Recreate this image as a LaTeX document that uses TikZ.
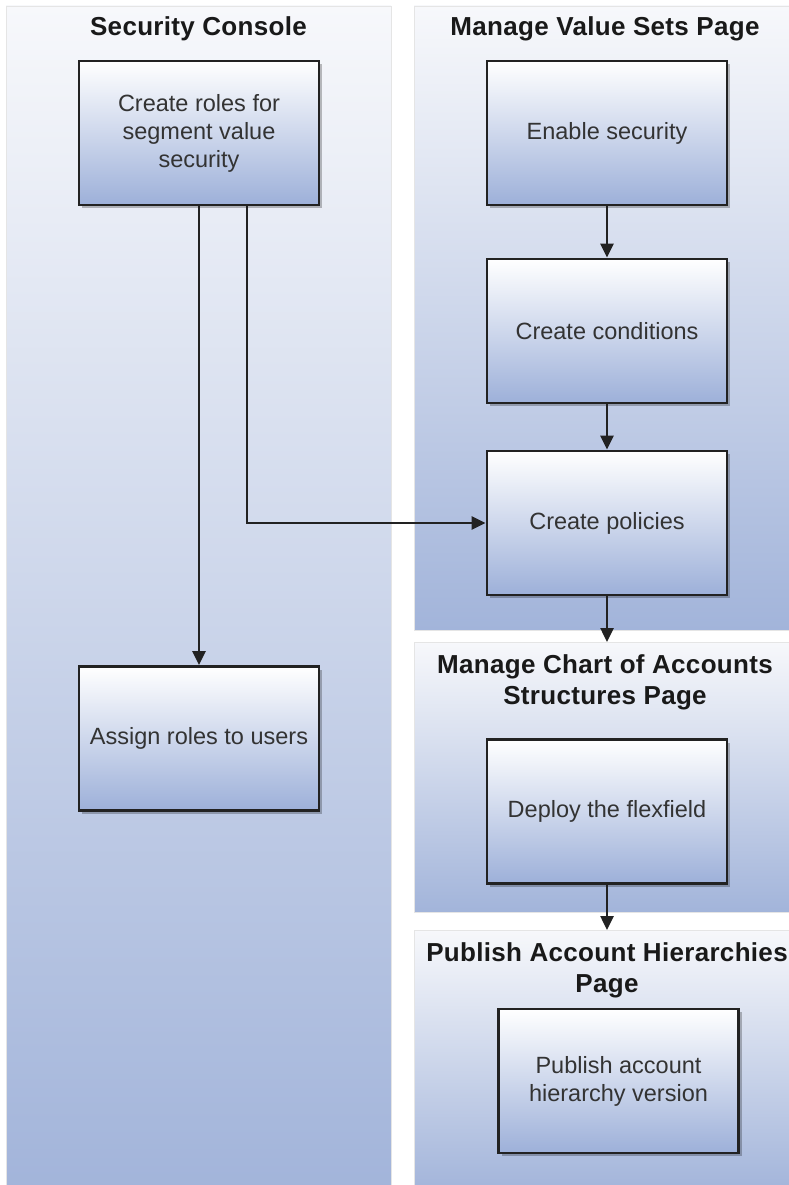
\documentclass[tikz,border=0pt]{standalone}
\usepackage{fontspec}
\setmainfont{Liberation Sans}
\newfontfamily\titlefont[LetterSpace=1.2]{Liberation Sans}
\usetikzlibrary{arrows.meta,shadows}
\definecolor{lanetop}{HTML}{F7F8FB}
\definecolor{lanebot}{HTML}{A2B4DA}
\definecolor{boxbot}{HTML}{9DB0D9}
\definecolor{boxline}{HTML}{222222}
\definecolor{textgray}{HTML}{333333}
\begin{document}
\begin{tikzpicture}[x=1pt,y=-1pt,
  lane/.style={draw=black!10, line width=0.8pt, top color=lanetop, bottom color=lanebot},
  stepbox/.style={draw=boxline, line width=2.8pt, top color=white, bottom color=boxbot,
    minimum width=240pt, minimum height=144pt, align=center, text=textgray,
    font=\fontsize{23.5}{28}\selectfont,
    drop shadow={shadow xshift=3pt, shadow yshift=-3pt, fill=black, opacity=0.25}},
  title/.style={font=\titlefont\bfseries\fontsize{26}{31}\selectfont, align=center, text=black!90},
  arr/.style={line width=2.5pt, draw=boxline, -{Triangle[length=14pt,width=13pt]}}
]
\useasboundingbox (0,0) rectangle (789,1185);
\fill[white] (0,0) rectangle (789,1185);
% lanes
\path[lane] (6,6) rectangle (391,1192);
\path[lane] (414,6) rectangle (800,630);
\path[lane] (414,642) rectangle (800,912);
\path[lane] (414,930) rectangle (800,1192);
% titles
\node[title] (t1) at (198.5,29) {Security Console};
\node[title] (t2) at (605,29) {Manage Value Sets Page};
\node[title] (t3) at (605,682) {Manage Chart of Accounts\\Structures Page};
\node[title] (t4) at (607,970) {Publish Account Hierarchies\\Page};
% steps
\node[stepbox] (roles) at (199,133) {Create roles for\\segment value\\security};
\node[stepbox] (assign) at (199,738.5) {Assign roles to users};
\node[stepbox] (enable) at (607,133) {Enable security};
\node[stepbox] (cond) at (607,331) {Create conditions};
\node[stepbox] (pol) at (607,523) {Create policies};
\node[stepbox] (deploy) at (607,811.5) {Deploy the flexfield};
\node[stepbox] (publish) at (618.5,1081) {Publish account\\hierarchy version};
% lane-top targets
\coordinate (l2top) at (607,642);
\coordinate (l3top) at (607,930);
% connectors
\draw[arr] (roles.south) -- (assign.north);
\draw[arr] ([xshift=48pt]roles.south) |- (pol.west);
\draw[arr] (enable.south) -- (cond.north);
\draw[arr] (cond.south) -- (pol.north);
\draw[arr] (pol.south) -- (l2top);
\draw[arr] (deploy.south) -- (l3top);
\end{tikzpicture}
\end{document}
